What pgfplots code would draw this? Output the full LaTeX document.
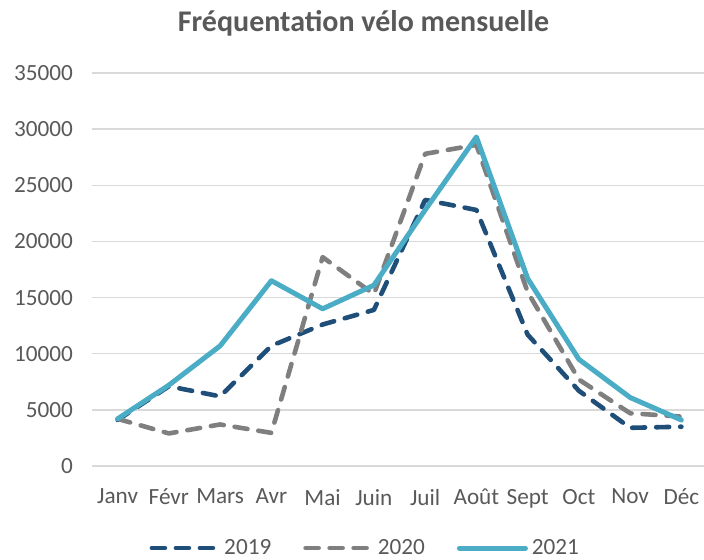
\documentclass[border=0pt]{standalone}
\usepackage{pgfplots}
\pgfplotsset{compat=1.18}
\usepackage{fontspec}
\setmainfont{Carlito}
\definecolor{cA}{HTML}{1F4E79}
\definecolor{cB}{HTML}{7F7F7F}
\definecolor{cC}{HTML}{4BACC6}
\definecolor{txt}{HTML}{595959}
\definecolor{gridc}{HTML}{D9D9D9}
\begin{document}
\begin{tikzpicture}
\useasboundingbox (-46pt,-47pt) rectangle ++(352pt,280pt);
\begin{axis}[
  at={(0,0)}, anchor=south west,
  scale only axis, width=307.5pt, height=196.5pt,
  xmin=-0.5, xmax=11.5, ymin=0, ymax=35000,
  ytick={0,5000,...,35000},
  xtick={0,...,11},
  xticklabels={Janv,Févr,Mars,Avr,Mai,Juin,Juil,Août,Sept,Oct,Nov,Déc},
  ymajorgrids, major grid style={draw=gridc, line width=0.75pt},
  axis line style={draw=none},
  major tick length=0pt,
  scaled y ticks=false,
  /pgf/number format/1000 sep={},
  /pgf/number format/assume math mode=true,
  tick label style={font=\fontsize{11.6}{13}\selectfont, text=txt},
  xticklabel style={yshift=-8pt},
  yticklabel style={xshift=-6pt},
  legend columns=3,
  legend style={at={(0.446,0)}, anchor=center, yshift=-41pt, draw=none, fill=none,
    font=\fontsize{11.6}{13}\selectfont, text=txt,
    /tikz/every even column/.append style={column sep=14pt}},
  legend image code/.code={\draw[#1] (0pt,0pt) -- (33pt,0pt);},
  every axis plot/.append style={line cap=round, line join=round},
  clip=false,
]
\coordinate (t) at (rel axis cs:0.4416,1);
\addplot[cA, line width=2.3pt, dash pattern=on 6.5pt off 5.5pt] coordinates {
 (0,4100) (1,7100) (2,6200) (3,10700) (4,12600) (5,13900) (6,23700) (7,22800) (8,11700) (9,6700) (10,3400) (11,3500)};
\addlegendentry{2019}
\addplot[cB, line width=2.3pt, dash pattern=on 6.5pt off 5.5pt] coordinates {
 (0,4200) (1,2900) (2,3700) (3,2950) (4,18600) (5,15300) (6,27800) (7,28600) (8,15500) (9,7700) (10,4700) (11,4400)};
\addlegendentry{2020}
\addplot[cC, line width=2.5pt] coordinates {
 (0,4200) (1,7200) (2,10700) (3,16500) (4,14000) (5,16100) (6,22800) (7,29300) (8,16700) (9,9500) (10,6100) (11,4100)};
\addlegendentry{2021}
\end{axis}
\node[anchor=base, text=txt, font=\bfseries\fontsize{15}{18}\selectfont, inner sep=0pt] at ([yshift=20.5pt]t) {Fréquentation vélo mensuelle};
\end{tikzpicture}
\end{document}
